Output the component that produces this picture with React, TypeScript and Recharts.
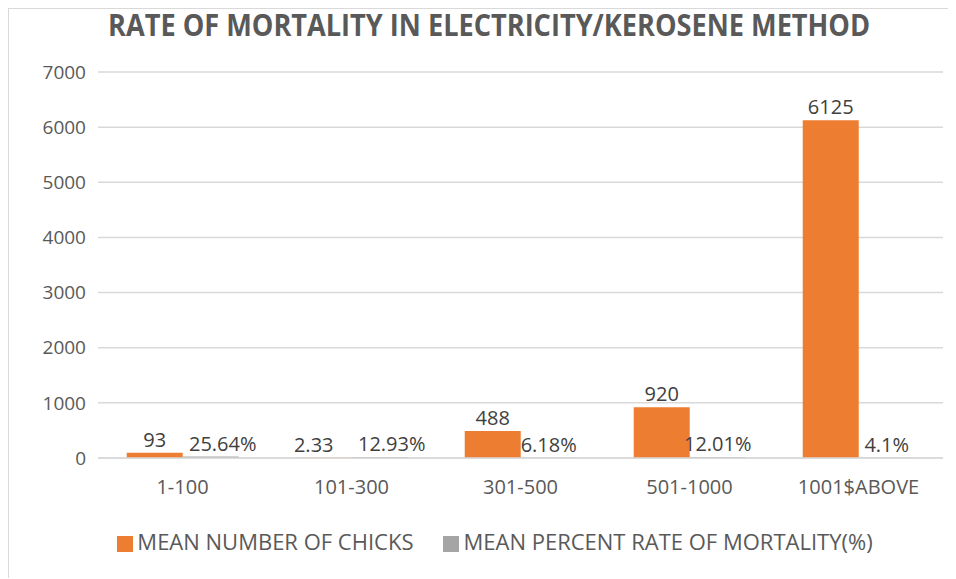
import { BarChart, Bar, XAxis, YAxis, CartesianGrid, Legend, LabelList } from "recharts"

const categories = ["1-100", "101-300", "301-500", "501-1000", "1001$ABOVE"]
const meanChicks = [93, 2.33, 488, 920, 6125]
const mortalityRate = [25.64, 12.93, 6.18, 12.01, 4.1]
const yTicks = [0, 1000, 2000, 3000, 4000, 5000, 6000, 7000]

const data = categories.map((name, i) => ({
  name,
  chicks: meanChicks[i],
  rate: mortalityRate[i],
}))

const textColor = "#595959"
const labelColor = "#404040"
const font = "'Open Sans', 'Noto Sans', sans-serif"

// nudge labels apart when both sit near the baseline (like Excel does)
const ChicksLabel = (props: any) => {
  const { x, y, width, value } = props
  const dx = value < 10 ? -10 : 0
  return (
    <text x={x + width / 2 + dx} y={y - 6} textAnchor="middle" fill={labelColor} fontSize={20} fontFamily={font}>
      {value}
    </text>
  )
}

const RateLabel = (props: any) => {
  const { x, y, width, value, index } = props
  const dx = meanChicks[index] < 200 ? 12 : 0
  return (
    <text x={x + width / 2 + dx} y={y - 6} textAnchor="middle" fill={labelColor} fontSize={20} fontFamily={font}>
      {`${value}%`}
    </text>
  )
}

export default function App() {
  return (
    <div
      style={{
        position: "relative",
        width: 946,
        height: 569,
        borderTop: "1px solid #d9d9d9",
        borderLeft: "1px solid #d9d9d9",
        fontFamily: font,
        background: "#fff",
      }}
    >
      <div
        style={{
          position: "absolute",
          top: -5,
          left: 7,
          width: 946,
          textAlign: "center",
          fontFamily: font,
          fontWeight: "bold",
          fontSize: 30,
          color: textColor,
        }}
      >
        <span style={{ display: "inline-block", transform: "scaleX(0.905)", whiteSpace: "nowrap" }}>
          RATE OF MORTALITY IN ELECTRICITY/KEROSENE METHOD
        </span>
      </div>
      <BarChart
        width={940}
        height={563}
        data={data}
        margin={{ top: 63, right: 6, left: 0, bottom: 6 }}
        barCategoryGap="17%"
        barGap={0}
      >
        <CartesianGrid vertical={false} stroke="#d9d9d9" strokeWidth={1.5} />
        <XAxis
          dataKey="name"
          tickLine={false}
          axisLine={{ stroke: "#d9d9d9", strokeWidth: 1.5 }}
          tick={{ fill: textColor, fontSize: 20, fontFamily: font }}
          tickMargin={16}
          height={68}
        />
        <YAxis
          domain={[0, 7000]}
          ticks={yTicks}
          tickLine={false}
          axisLine={false}
          tick={{ fill: textColor, fontSize: 19, fontFamily: font }}
          width={89}
          tickMargin={6}
        />
        <Legend
          verticalAlign="bottom"
          iconType="square"
          iconSize={16}
          wrapperStyle={{ fontSize: 22, fontFamily: font, height: 40, left: 34 }}
          formatter={(value) => <span style={{ color: textColor, marginRight: 20 }}>{value}</span>}
        />
        <Bar dataKey="chicks" name="MEAN NUMBER OF CHICKS" fill="#ED7D31" isAnimationActive={false}>
          <LabelList dataKey="chicks" content={ChicksLabel} />
        </Bar>
        <Bar dataKey="rate" name="MEAN PERCENT RATE OF MORTALITY(%)" fill="#A5A5A5" isAnimationActive={false}>
          <LabelList dataKey="rate" content={RateLabel} />
        </Bar>
      </BarChart>
    </div>
  )
}
